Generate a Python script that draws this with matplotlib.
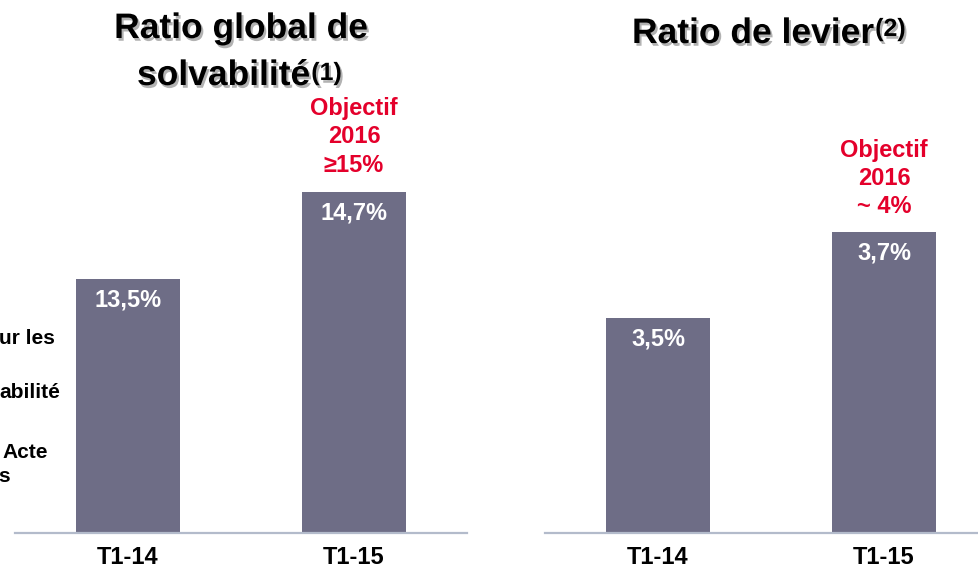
import matplotlib
matplotlib.use("Agg")
import matplotlib.pyplot as plt
import matplotlib.patheffects as pe

plt.rcParams["font.family"] = ["Liberation Sans", "DejaVu Sans"]

# données
categories = ["T1-14", "T1-15"]
solvabilite = [13.5, 14.7]
levier = [3.5, 3.7]
objectif_solv = "Objectif\n2016\n≥15%"
objectif_levier = "Objectif\n2016\n~ 4%"
# partie visible du texte coupé au bord gauche
texte_gauche = ["ur les", "abilité", "Acte", "s"]

BAR = "#6E6D86"
ROUGE = "#E4002B"
AXE = "#B3BBCB"

W, H = 979, 569
fig = plt.figure(figsize=(W / 100, H / 100), dpi=100)


def px_axes(x0, x1, ybase, ytop):
    return fig.add_axes([x0 / W, (H - ybase) / H, (x1 - x0) / W, (ybase - ytop) / H])


def fmt(v):
    return f"{v:.1f}%".replace(".", ",")


def panel(ax, vals, ylim, objectif, off):
    x = range(len(categories))
    ax.bar(x, vals, width=0.46, color=BAR)
    ax.set_xlim(-0.5, 1.5)
    ax.set_ylim(*ylim)
    for s in ["top", "left", "right"]:
        ax.spines[s].set_visible(False)
    ax.spines["bottom"].set_color(AXE)
    ax.spines["bottom"].set_linewidth(1.6)
    ax.set_yticks([])
    ax.set_xticks(list(x), categories, fontsize=17, fontweight="bold")
    ax.tick_params(axis="x", length=0, pad=9)
    for i, v in enumerate(vals):
        ax.annotate(fmt(v), (i, v), xytext=(0, -15), textcoords="offset points",
                    ha="center", va="center", color="white", fontsize=17,
                    fontweight="bold")
    ax.annotate(objectif, (1, vals[1]), xytext=(0, off), textcoords="offset points",
                ha="center", va="center", color=ROUGE, fontsize=17,
                fontweight="bold", linespacing=1.3)


ax1 = px_axes(15, 467, 533, 0)
panel(ax1, solvabilite, (10, 17.35), objectif_solv, 40)

ax2 = px_axes(545, 997, 533, 0)
panel(ax2, levier, (3.0, 4.2395), objectif_levier, 38.5)

ombre = [pe.SimplePatchShadow(offset=(1.5, -2), shadow_rgbFace="#808080", alpha=0.6),
         pe.Normal()]
titre = dict(va="baseline", fontsize=25.5, fontweight="bold", path_effects=ombre)

fig.text(241 / W, 1 - 38 / H, "Ratio global de", ha="center", **titre)
fig.text(137 / W, 1 - 85 / H, "solvabilité", ha="left", **titre)
fig.text(632 / W, 1 - 43 / H, "Ratio de levier", ha="left", **titre)
fig.canvas.draw()
r = fig.canvas.get_renderer()
for t, num, dy in zip(fig.texts[1:3], ["(1)", "(2)"], [12, 14]):
    bb = t.get_window_extent(r)
    fig.text((bb.x1 + 1) / W, (bb.y0 + dy) / H, num, ha="left", va="baseline",
             fontsize=18, fontweight="bold", path_effects=ombre)

for t, xr, yc in zip(texte_gauche, [55, 60, 48, 10], [339, 393, 453, 476]):
    fig.text(xr / W, 1 - yc / H, t, ha="right", va="center", fontsize=15,
             fontweight="bold")

fig.savefig("out.png", dpi=100)
